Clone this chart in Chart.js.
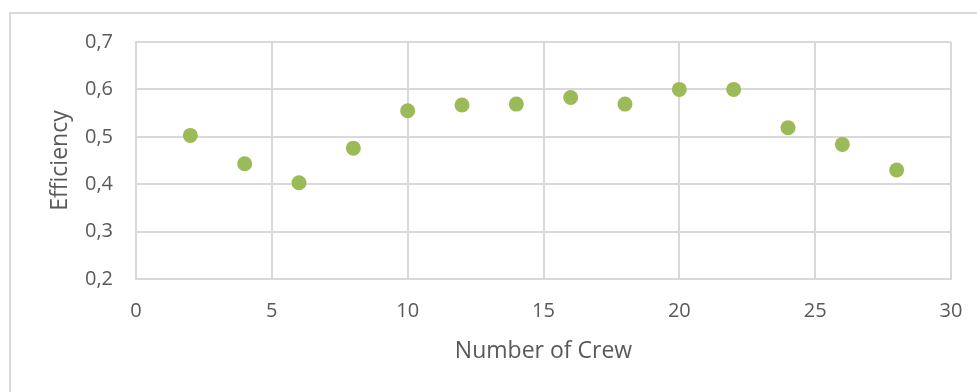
<!DOCTYPE html>
<html lang="en">
<head>
    <meta charset="UTF-8">
    <title>Efficiency vs Number of Crew</title>
    <script src="https://cdn.jsdelivr.net/npm/chart.js"></script>
    <style>
        html, body { margin: 0; padding: 0; background: #fff; }
        .wrap { position: relative; width: 977px; height: 392px; overflow: hidden; }
        .frame { position: absolute; left: 9px; top: 12px; width: 1000px; height: 420px;
                 border: 2px solid #d9d9d9; box-sizing: border-box; }
        canvas { position: absolute; left: 0; top: 0; }
    </style>
</head>
<body>
    <div class="wrap">
        <div class="frame"></div>
        <canvas id="crewChart" width="977" height="392"></canvas>
    </div>

    <script>
        // crew size and measured efficiency
        const crew = [2, 4, 6, 8, 10, 12, 14, 16, 18, 20, 22, 24, 26, 28];
        const efficiency = [0.503, 0.443, 0.403, 0.476, 0.555, 0.567, 0.569, 0.583, 0.569, 0.600, 0.600, 0.519, 0.484, 0.430];

        const gridColor = '#d9d9d9';
        const textColor = '#595959';
        const fontFamily = '"Open Sans", "DejaVu Sans", sans-serif';

        const points = crew.map((c, i) => ({ x: c, y: efficiency[i] }));

        const ctx = document.getElementById('crewChart').getContext('2d');
        new Chart(ctx, {
            type: 'scatter',
            data: {
                datasets: [{
                    label: 'Efficiency',
                    data: points,
                    backgroundColor: '#9bbb59',
                    borderColor: '#9bbb59',
                    pointRadius: 7.5,
                    pointHoverRadius: 7.5,
                    borderWidth: 0
                }]
            },
            options: {
                responsive: false,
                animation: false,
                layout: { padding: { top: 42, right: 26, left: 0, bottom: 0 } },
                plugins: {
                    legend: { display: false },
                    tooltip: { enabled: false }
                },
                scales: {
                    x: {
                        type: 'linear',
                        min: 0,
                        max: 30,
                        afterFit: s => {
                            s.height = 113;
                            // keep the "30" label from shrinking the plot area
                            s.paddingLeft = 0;
                            s.paddingRight = 0;
                        },
                        ticks: {
                            stepSize: 5,
                            color: textColor,
                            padding: 20,
                            maxRotation: 0,
                            font: { family: fontFamily, size: 20 }
                        },
                        grid: { color: gridColor, lineWidth: 2, drawTicks: false },
                        border: { color: gridColor, width: 2 },
                        title: {
                            display: true,
                            text: 'Number of Crew',
                            color: textColor,
                            font: { family: fontFamily, size: 23 },
                            padding: { top: 0, bottom: 27 }
                        }
                    },
                    y: {
                        min: 0.2,
                        max: 0.7,
                        afterFit: s => {
                            s.width = 136;
                            s.paddingTop = 0;
                            s.paddingBottom = 0;
                        },
                        ticks: {
                            stepSize: 0.1,
                            color: textColor,
                            padding: 23,
                            font: { family: fontFamily, size: 20 },
                            callback: v => v.toFixed(1).replace('.', ',')
                        },
                        grid: { color: gridColor, lineWidth: 2, drawTicks: false },
                        border: { color: gridColor, width: 2 },
                        title: {
                            display: true,
                            text: 'Efficiency',
                            color: textColor,
                            font: { family: fontFamily, size: 23 },
                            padding: { top: 47, bottom: 0 }
                        }
                    }
                }
            }
        });
    </script>
</body>
</html>
